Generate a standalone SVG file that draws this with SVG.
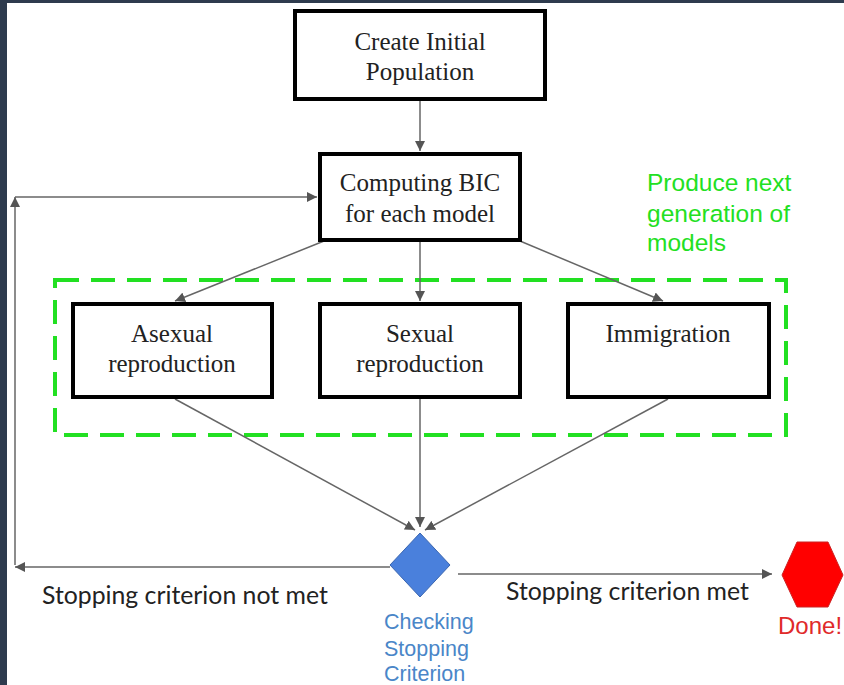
<svg xmlns="http://www.w3.org/2000/svg" width="844" height="685" viewBox="0 0 844 685">
<style>
.box{fill:#fff;stroke:#000;stroke-width:4}
.tnr{font-family:"Liberation Serif","Times New Roman",serif;font-size:25px;fill:#222;text-anchor:middle}
.con{fill:none;stroke:#666;stroke-width:1.5}
.lato{font-family:Lato,"Liberation Sans",sans-serif;font-size:24.8px;fill:#222}
.sans{font-family:"Liberation Sans",Arial,sans-serif}
</style>
<defs>
<marker id="ah" viewBox="0 0 10 10" refX="10" refY="5" markerWidth="10" markerHeight="10" markerUnits="userSpaceOnUse" orient="auto">
<path d="M0,0 L10,5 L0,10 z" fill="#555"/>
</marker>
</defs>
<rect x="0" y="0" width="844" height="685" fill="#fff"/>
<rect x="0" y="0" width="7" height="685" fill="#2e3b4e"/>
<rect x="0" y="0" width="844" height="3" fill="#2e3b4e"/>

<g id="group-frame">
<rect x="55" y="280" width="731" height="155" fill="none" stroke="#22e022" stroke-width="4" stroke-dasharray="24 12"/>
<text class="sans" x="647" y="191" font-size="24.5" fill="#22e022">Produce next</text>
<text class="sans" x="647" y="222" font-size="24.5" fill="#22e022">generation of</text>
<text class="sans" x="647" y="251" font-size="24.5" fill="#22e022">models</text>
</g>

<g id="connectors">
<line class="con" x1="420" y1="100" x2="420" y2="151" marker-end="url(#ah)"/>
<line class="con" x1="324" y1="241" x2="175" y2="301" marker-end="url(#ah)"/>
<line class="con" x1="420" y1="242" x2="420" y2="301" marker-end="url(#ah)"/>
<line class="con" x1="520" y1="241" x2="663" y2="301" marker-end="url(#ah)"/>
<line class="con" x1="175" y1="399" x2="415" y2="530" marker-end="url(#ah)"/>
<line class="con" x1="420" y1="399" x2="420" y2="527" marker-end="url(#ah)"/>
<line class="con" x1="668" y1="399" x2="425" y2="530" marker-end="url(#ah)"/>
<line class="con" x1="390" y1="567" x2="15" y2="567" marker-end="url(#ah)"/>
<line class="con" x1="15" y1="565" x2="15" y2="197" marker-end="url(#ah)"/>
<line class="con" x1="15" y1="197" x2="317" y2="197" marker-end="url(#ah)"/>
<line class="con" x1="458" y1="574" x2="772" y2="574" marker-end="url(#ah)"/>
<text class="lato" x="42" y="604">Stopping criterion not met</text>
<text class="lato" x="506" y="600">Stopping criterion met</text>
</g>

<g id="node-create">
<rect class="box" x="295" y="11" width="250" height="88"/>
<text class="tnr" x="420" y="50">Create Initial</text>
<text class="tnr" x="420" y="80">Population</text>
</g>

<g id="node-bic">
<rect class="box" x="320" y="154" width="200" height="86"/>
<text class="tnr" x="420" y="191">Computing BIC</text>
<text class="tnr" x="420" y="222">for each model</text>
</g>

<g id="node-asexual">
<rect class="box" x="73" y="304" width="199" height="93"/>
<text class="tnr" x="172" y="342">Asexual</text>
<text class="tnr" x="172" y="372">reproduction</text>
</g>

<g id="node-sexual">
<rect class="box" x="320" y="304" width="200" height="93"/>
<text class="tnr" x="420" y="342">Sexual</text>
<text class="tnr" x="420" y="372">reproduction</text>
</g>

<g id="node-immigration">
<rect class="box" x="568" y="304" width="201" height="93"/>
<text class="tnr" x="668" y="342">Immigration</text>
</g>

<g id="node-check">
<polygon points="420,533 450,565 420,597 390,565" fill="#4a80dc" stroke="#3a66b0" stroke-width="1"/>
<text class="sans" x="384" y="629" font-size="21.5" fill="#4a86c8">Checking</text>
<text class="sans" x="384" y="656" font-size="21.5" fill="#4a86c8">Stopping</text>
<text class="sans" x="384" y="681" font-size="21.5" fill="#4a86c8">Criterion</text>
</g>

<g id="node-done">
<polygon points="782,575 797,542 828,542 843,575 828,607 797,607" fill="#ff0000" stroke="#cc2222" stroke-width="1"/>
<text class="sans" x="778" y="634" font-size="24" fill="#e02a2a">Done!</text>
</g>
</svg>
